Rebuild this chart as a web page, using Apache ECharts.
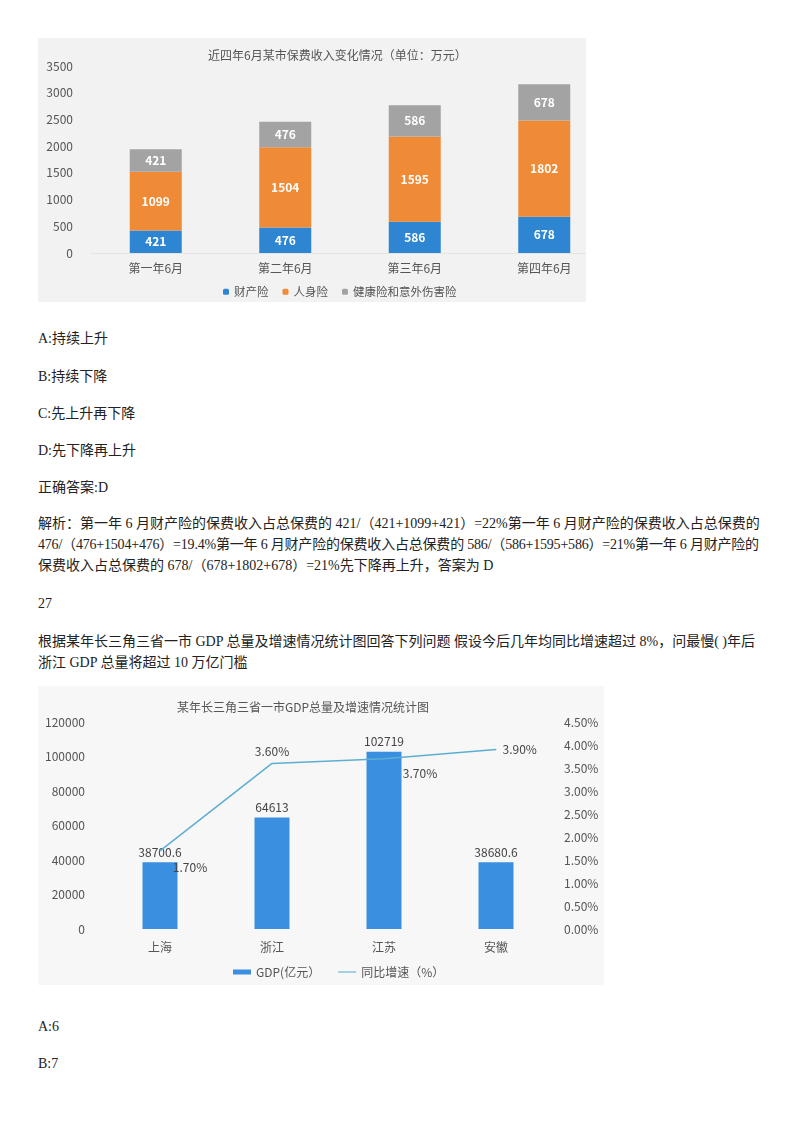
<!DOCTYPE html>
<html lang="zh">
<head>
<meta charset="UTF-8">
<title>保费收入 / GDP</title>
<script src="https://cdn.jsdelivr.net/npm/echarts@6.0.0/dist/echarts.min.js"></script>
<style>
    body { margin: 0; background: #fff; font-family: "Liberation Serif", "Noto Sans CJK SC", serif; color: #222; }
    .t { position: absolute; left: 38px; font-size: 14px; line-height: 21px; white-space: nowrap; }
    .tight { letter-spacing: -0.2px; }
    #box1 { position: absolute; left: 38px; top: 38px; width: 548px; height: 264px; background: #f2f2f2; overflow: hidden; }
    #chart1 { width: 575px; height: 264px; }
    #chart2 { position: absolute; left: 38px; top: 686px; width: 566px; height: 299px; background: #f7f7f7; }
</style>
</head>
<body>
<div id="box1"><div id="chart1"></div></div>
<div class="t" style="top:328px">A:持续上升</div>
<div class="t" style="top:366px">B:持续下降</div>
<div class="t" style="top:403px">C:先上升再下降</div>
<div class="t" style="top:440px">D:先下降再上升</div>
<div class="t" style="top:477px">正确答案:D</div>
<div class="t" style="top:513px">解析：第一年 6 月财产险的保费收入占总保费的 421/（421+1099+421）=22%第一年 6 月财产险的保费收入占总保费的<br><span class="tight">476/（476+1504+476）=19.4%第一年 6 月财产险的保费收入占总保费的 586/（586+1595+586）=21%第一年 6 月财产险的</span><br>保费收入占总保费的 678/（678+1802+678）=21%先下降再上升，答案为 D</div>
<div class="t" style="top:593px">27</div>
<div class="t" style="top:631px">根据某年长三角三省一市 GDP 总量及增速情况统计图回答下列问题 假设今后几年均同比增速超过 8%，问最慢( )年后<br>浙江 GDP 总量将超过 10 万亿门槛</div>
<div id="chart2"></div>
<div class="t" style="top:1016px">A:6</div>
<div class="t" style="top:1053px">B:7</div>
<script>
    const font = 'Noto Sans CJK SC';

    // 图1：保费收入（万元）
    const years = ['第一年6月', '第二年6月', '第三年6月', '第四年6月'];
    const property = [421, 476, 586, 678];
    const life = [1099, 1504, 1595, 1802];
    const health = [421, 476, 586, 678];

    // 图2：GDP（亿元）与同比增速（%）
    const regions = ['上海', '浙江', '江苏', '安徽'];
    const gdp = [38700.6, 64613, 102719, 38680.6];
    const growth = [1.7, 3.6, 3.7, 3.9];

    const chart1 = echarts.init(document.getElementById('chart1'));
    const segLabel = { show: true, color: '#fff', fontWeight: 'bold', fontSize: 12, fontFamily: font };
    chart1.setOption({
        animation: false,
        title: {
            text: '近四年6月某市保费收入变化情况（单位：万元）',
            left: 165, top: 6,
            textStyle: { fontSize: 12, fontWeight: 'normal', color: '#555', fontFamily: font }
        },
        legend: {
            left: 180, top: 243,
            itemWidth: 6, itemHeight: 6, itemGap: 14,
            textStyle: { fontSize: 11.5, color: '#555', fontFamily: font },
            data: ['财产险', '人身险', '健康险和意外伤害险']
        },
        grid: { left: 53, right: 4, top: 28, bottom: 49 },
        xAxis: {
            type: 'category',
            data: years,
            axisLine: { show: true, lineStyle: { color: '#e4e4e4' } },
            axisTick: { show: false },
            axisLabel: { color: '#555', fontSize: 12, margin: 9, fontFamily: font }
        },
        yAxis: {
            type: 'value',
            min: 0, max: 3500, interval: 500,
            splitLine: { show: false },
            axisLabel: { color: '#555', fontSize: 12, margin: 18, fontFamily: font, formatter: v => String(v) }
        },
        series: [
            { name: '财产险', type: 'bar', stack: 'a', barWidth: 52, data: property,
              itemStyle: { color: '#2e86d2' }, label: segLabel },
            { name: '人身险', type: 'bar', stack: 'a', data: life,
              itemStyle: { color: '#ef8b36' }, label: segLabel },
            { name: '健康险和意外伤害险', type: 'bar', stack: 'a', data: health,
              itemStyle: { color: '#a3a3a3' }, label: segLabel }
        ]
    });

    const chart2 = echarts.init(document.getElementById('chart2'));
    const lineColor = '#5cafd3';
    // 百分比标签相对数据点的位置
    const growthPos = ['inside', 'inside', 'inside', 'right'];
    const growthOffsets = [[30, 17], [0, -12], [36, 15], [0, 0]];
    chart2.setOption({
        animation: false,
        title: {
            text: '某年长三角三省一市GDP总量及增速情况统计图',
            left: 134, top: 10,
            textStyle: { fontSize: 12, fontWeight: 'normal', color: '#555', fontFamily: font }
        },
        legend: {
            left: 190, top: 275,
            itemWidth: 18, itemHeight: 5, itemGap: 18,
            textStyle: { fontSize: 12, color: '#555', fontFamily: font },
            data: [
                { name: 'GDP(亿元）', icon: 'rect' },
                { name: '同比增速（%）', icon: 'path://M0,0L20,0L20,1.2L0,1.2Z' }
            ]
        },
        grid: { left: 66, right: 52, top: 36, bottom: 56 },
        xAxis: {
            type: 'category',
            data: regions,
            axisLine: { show: false },
            axisTick: { show: false },
            axisLabel: { color: '#555', fontSize: 12, margin: 12, fontFamily: font }
        },
        yAxis: [
            {
                type: 'value', min: 0, max: 120000, interval: 20000,
                splitLine: { show: false },
                axisLabel: { color: '#555', fontSize: 12, margin: 19, fontFamily: font, formatter: v => String(v) }
            },
            {
                type: 'value', min: 0, max: 4.5, interval: 0.5,
                splitLine: { show: false },
                axisLabel: { color: '#555', fontSize: 12, margin: 12, fontFamily: font,
                    formatter: v => v.toFixed(2) + '%' }
            }
        ],
        series: [
            {
                name: 'GDP(亿元）', type: 'bar', barWidth: 35, data: gdp,
                itemStyle: { color: '#3a8fe0' },
                label: { show: true, position: 'top', distance: 4, color: '#444', fontSize: 12, fontFamily: font }
            },
            {
                name: '同比增速（%）', type: 'line', yAxisIndex: 1,
                symbol: 'circle', symbolSize: 1,
                lineStyle: { color: lineColor, width: 1.5 },
                itemStyle: { color: lineColor },
                data: growth.map((v, i) => ({
                    value: v,
                    label: { position: growthPos[i], offset: growthOffsets[i] }
                })),
                label: { show: true, color: '#444', fontSize: 12, distance: 6, fontFamily: font,
                    formatter: p => p.value.toFixed(2) + '%' }
            }
        ]
    });
</script>
</body>
</html>
